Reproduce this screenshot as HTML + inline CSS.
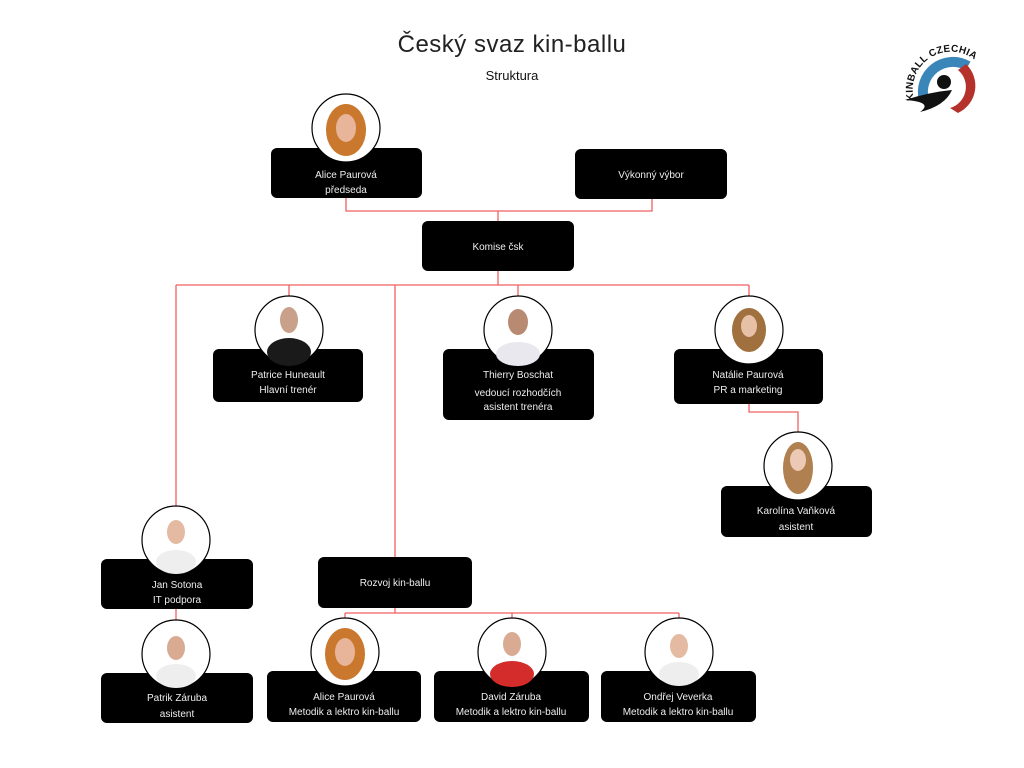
<!DOCTYPE html>
<html><head><meta charset="utf-8"><style>
html,body{margin:0;padding:0;background:#fff;}
svg{display:block;font-family:"Liberation Sans",sans-serif;}
.b{fill:#000;}
.t{fill:#eee;font-size:10px;text-anchor:middle;}
.l{stroke:#f06060;stroke-width:1.3;fill:none;}
.c{fill:#fff;stroke:#000;stroke-width:1.2;}
</style></head><body>
<svg width="1024" height="768" viewBox="0 0 1024 768">
<rect width="1024" height="768" fill="#fff"/>
<text x="512" y="52" font-size="24" text-anchor="middle" fill="#222" letter-spacing="0.5">Český svaz kin-ballu</text>
<text x="512" y="80" font-size="13" text-anchor="middle" fill="#111">Struktura</text>
<!-- logo -->
<defs><path id="arc" d="M914 100 A38 38 0 1 1 988 80"/></defs>
<g>
<text font-size="10" font-weight="bold" fill="#111" letter-spacing="0.3"><textPath href="#arc">KINBALL CZECHIA</textPath></text>
<path d="M924 100 A30 30 0 0 1 968 66" stroke="#3a86b8" stroke-width="10" fill="none"/>
<path d="M966 64 A30 30 0 0 1 958 113 L950 108 A22 22 0 0 0 958 70 Z" fill="#b5322c"/>
<circle cx="944" cy="82" r="7" fill="#111"/>
<path d="M905 100 Q930 92 952 90 Q945 106 920 112 Q934 102 905 100Z" fill="#111"/>
</g>
<!-- lines -->
<path class="l" d="M346 198 V211 H652 V199 M498 211 V221"/>
<path class="l" d="M498 271 V285 M176 285 H749 M176 285 V508 M289 285 V297 M395 285 V557 M518 285 V297 M749 285 V297"/>
<path class="l" d="M749 404 V412 H798 V433"/>
<path class="l" d="M176 609 V621"/>
<path class="l" d="M395 608 V613 M345 613 H679 M345 613 V620 M512 613 V620 M679 613 V620"/>
<!-- boxes -->
<rect class="b" x="271" y="148" width="151" height="50" rx="6"/>
<rect class="b" x="575" y="149" width="152" height="50" rx="6"/>
<rect class="b" x="422" y="221" width="152" height="50" rx="6"/>
<rect class="b" x="213" y="349" width="150" height="53" rx="6"/>
<rect class="b" x="443" y="349" width="151" height="71" rx="6"/>
<rect class="b" x="674" y="349" width="149" height="55" rx="6"/>
<rect class="b" x="721" y="486" width="151" height="51" rx="6"/>
<rect class="b" x="101" y="559" width="152" height="50" rx="6"/>
<rect class="b" x="318" y="557" width="154" height="51" rx="6"/>
<rect class="b" x="101" y="673" width="152" height="50" rx="6"/>
<rect class="b" x="267" y="671" width="154" height="51" rx="6"/>
<rect class="b" x="434" y="671" width="155" height="51" rx="6"/>
<rect class="b" x="601" y="671" width="155" height="51" rx="6"/>
<!-- photos -->
<g>
<circle class="c" cx="346" cy="128" r="34"/><ellipse cx="346" cy="130" rx="20" ry="26" fill="#c9782e"/><ellipse cx="346" cy="128" rx="10" ry="14" fill="#e8b59a"/>
<circle class="c" cx="289" cy="330" r="34"/><ellipse cx="289" cy="352" rx="22" ry="14" fill="#1a1a1a"/><ellipse cx="289" cy="320" rx="9" ry="13" fill="#c9a08a"/>
<circle class="c" cx="518" cy="330" r="34"/><ellipse cx="518" cy="354" rx="22" ry="12" fill="#e8e8ee"/><ellipse cx="518" cy="322" rx="10" ry="13" fill="#b88a72"/>
<circle class="c" cx="749" cy="330" r="34"/><ellipse cx="749" cy="330" rx="17" ry="22" fill="#a0703f"/><ellipse cx="749" cy="326" rx="8" ry="11" fill="#e7c0a8"/>
<circle class="c" cx="798" cy="466" r="34"/><ellipse cx="798" cy="468" rx="15" ry="26" fill="#b08050"/><ellipse cx="798" cy="460" rx="8" ry="11" fill="#ecc9b4"/>
<circle class="c" cx="176" cy="540" r="34"/><ellipse cx="176" cy="562" rx="20" ry="12" fill="#eee"/><ellipse cx="176" cy="532" rx="9" ry="12" fill="#e4bba2"/>
<circle class="c" cx="176" cy="654" r="34"/><ellipse cx="176" cy="676" rx="20" ry="12" fill="#eee"/><ellipse cx="176" cy="648" rx="9" ry="12" fill="#d9ab92"/>
<circle class="c" cx="345" cy="652" r="34"/><ellipse cx="345" cy="654" rx="20" ry="26" fill="#c9782e"/><ellipse cx="345" cy="652" rx="10" ry="14" fill="#e8b59a"/>
<circle class="c" cx="512" cy="652" r="34"/><ellipse cx="512" cy="674" rx="22" ry="13" fill="#d42b2b"/><ellipse cx="512" cy="644" rx="9" ry="12" fill="#d9ab92"/>
<circle class="c" cx="679" cy="652" r="34"/><ellipse cx="679" cy="674" rx="20" ry="12" fill="#eee"/><ellipse cx="679" cy="646" rx="9" ry="12" fill="#e4bba2"/>
</g>
<!-- text -->
<text class="t" x="346" y="178">Alice Paurová</text><text class="t" x="346" y="193">předseda</text>
<text class="t" x="651" y="178">Výkonný výbor</text>
<text class="t" x="498" y="250">Komise čsk</text>
<text class="t" x="288" y="378">Patrice Huneault</text><text class="t" x="288" y="393">Hlavní trenér</text>
<text class="t" x="518" y="378">Thierry Boschat</text><text class="t" x="518" y="396">vedoucí rozhodčích</text><text class="t" x="518" y="410">asistent trenéra</text>
<text class="t" x="748" y="378">Natálie Paurová</text><text class="t" x="748" y="393">PR a marketing</text>
<text class="t" x="796" y="514">Karolína Vaňková</text><text class="t" x="796" y="530">asistent</text>
<text class="t" x="177" y="588">Jan Sotona</text><text class="t" x="177" y="603">IT podpora</text>
<text class="t" x="395" y="586">Rozvoj kin-ballu</text>
<text class="t" x="177" y="701">Patrik Záruba</text><text class="t" x="177" y="717">asistent</text>
<text class="t" x="344" y="700">Alice Paurová</text><text class="t" x="344" y="715">Metodik a lektro kin-ballu</text>
<text class="t" x="511" y="700">David Záruba</text><text class="t" x="511" y="715">Metodik a lektro kin-ballu</text>
<text class="t" x="678" y="700">Ondřej Veverka</text><text class="t" x="678" y="715">Metodik a lektro kin-ballu</text>
</svg>
</body></html>
